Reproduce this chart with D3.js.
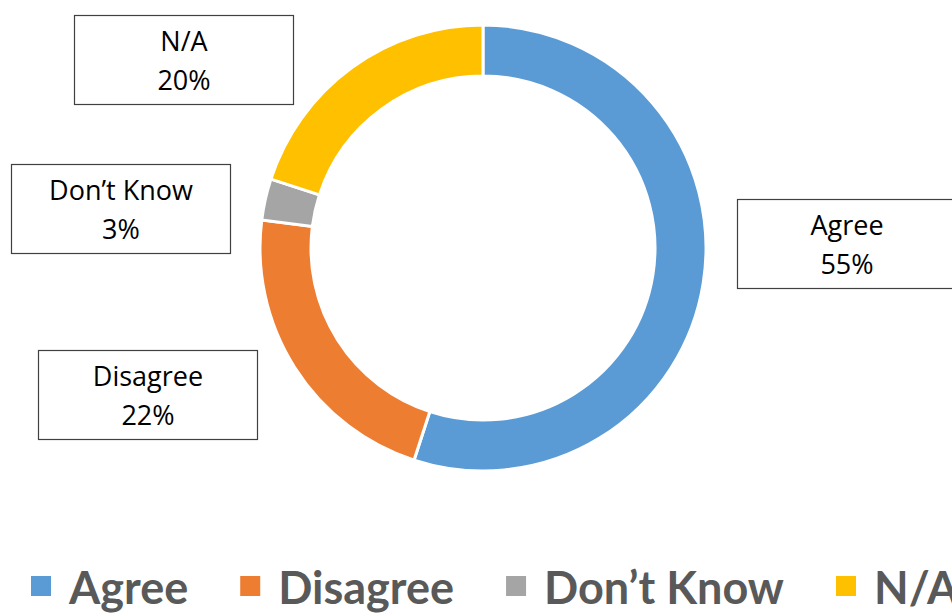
<!DOCTYPE html>
<html><head><meta charset="utf-8">
<script src="https://cdn.jsdelivr.net/npm/d3@7"></script>
<style>html,body{margin:0;padding:0;background:#fff;overflow:hidden}</style>
</head><body>
<svg id="chart" width="952" height="614"></svg>
<script>
const categories = ["Agree", "Disagree", "Don\u2019t Know", "N/A"];
const values = [55, 22, 3, 20];
const colors = ["#5B9BD5", "#ED7D31", "#A5A5A5", "#FFC000"];
// label box centers (manually placed callouts, as in the reference)
const labelBoxes = [[847, 244], [148, 395], [121, 209], [184, 60]];

const svg = d3.select("#chart");
const cx = 483, cy = 248, R = 223, r = 172;

const pie = d3.pie().sort(null).value(d => d)(values);
const arc = d3.arc().innerRadius(r).outerRadius(R);

const g = svg.append("g").attr("transform", `translate(${cx},${cy})`);
g.selectAll("path").data(pie).join("path")
  .attr("d", arc)
  .attr("fill", (d, i) => colors[i])
  .attr("stroke", "#fff").attr("stroke-width", 3);

const bw = 219, bh = 89;
const lab = svg.append("g");
pie.forEach((d, i) => {
  const [x, y] = labelBoxes[i];
  lab.append("rect").attr("x", x - bw / 2).attr("y", y - bh / 2)
    .attr("width", bw).attr("height", bh)
    .attr("fill", "#fff").attr("stroke", "#404040").attr("stroke-width", 1.2);
  const t = lab.append("text").attr("text-anchor", "middle")
    .attr("font-family", "'Open Sans', sans-serif").attr("font-size", 27)
    .attr("fill", "#000");
  t.append("tspan").attr("x", x).attr("y", y - 9).text(categories[i]);
  t.append("tspan").attr("x", x).attr("y", y + 30).text(d3.format(".0%")(values[i] / 100));
});

// legend
const leg = svg.append("g");
let lx = 31;
categories.forEach((c, i) => {
  leg.append("rect").attr("x", lx).attr("y", 576).attr("width", 20).attr("height", 20)
    .attr("fill", colors[i]);
  const t = leg.append("text").attr("x", lx + 38).attr("y", 604)
    .attr("font-family", "Lato, sans-serif").attr("font-weight", "bold")
    .attr("font-size", 45).attr("fill", "#595959").text(c);
  const w = t.node().getComputedTextLength();
  lx = lx + 38 + w + 52;
});
</script>
</body></html>
